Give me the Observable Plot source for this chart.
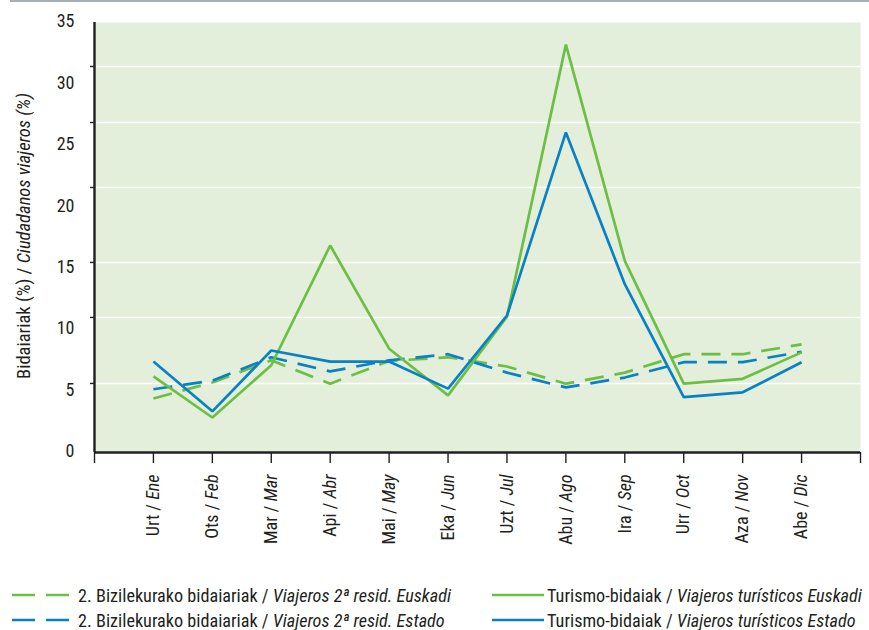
<!DOCTYPE html>
<html>
<head>
<meta charset="utf-8">
<script src="https://cdn.jsdelivr.net/npm/d3@7"></script>
<script src="https://cdn.jsdelivr.net/npm/@observablehq/plot@0.6"></script>
<style>
  html, body { margin: 0; padding: 0; background: #ffffff; }
  body { width: 869px; height: 630px; position: relative; overflow: hidden;
         font-family: "Liberation Sans Narrow", "Roboto Condensed", "DejaVu Sans Condensed", "Liberation Sans", sans-serif;
         color: #231f20; }
  #topline { position: absolute; left: 10px; top: 0; width: 859px; height: 2px; background: #a7afb5; }
  #chart { position: absolute; left: 0; top: 0; }
  .leg { position: absolute; height: 24px; display: flex; align-items: center; font-size: 18.2px; white-space: nowrap; }
  .leg svg { flex: none; }
  .leg i { font-style: italic; }
</style>
</head>
<body>
<div id="topline"></div>
<div id="chart"></div>
<div class="leg" style="left:10px; top:583px;"><svg width="66" height="6"><line x1="2" y1="3" x2="62" y2="3" stroke="#6cbe45" stroke-width="2.7" stroke-dasharray="23,11"/></svg><span style="margin-left:2px">2. Bizilekurako bidaiariak / <i>Viajeros 2ª resid. Euskadi</i></span></div>
<div class="leg" style="left:10px; top:608px;"><svg width="66" height="6"><line x1="2" y1="3" x2="62" y2="3" stroke="#0a80c6" stroke-width="2.7" stroke-dasharray="23,11"/></svg><span style="margin-left:2px">2. Bizilekurako bidaiariak / <i>Viajeros 2ª resid. Estado</i></span></div>
<div class="leg" style="left:492px; top:583px;"><svg width="53" height="6"><line x1="0" y1="3" x2="52" y2="3" stroke="#6cbe45" stroke-width="2.7"/></svg><span style="margin-left:2px">Turismo-bidaiak / <i>Viajeros turísticos Euskadi</i></span></div>
<div class="leg" style="left:492px; top:608px;"><svg width="53" height="6"><line x1="0" y1="3" x2="52" y2="3" stroke="#0a80c6" stroke-width="2.7"/></svg><span style="margin-left:2px">Turismo-bidaiak / <i>Viajeros turísticos Estado</i></span></div>
<script>
// ---- data ----
const monthPos = [1, 2, 3, 4, 5, 6, 7, 8, 9, 10, 11, 12];
const monthsEu = ["Urt", "Ots", "Mar", "Api", "Mai", "Eka", "Uzt", "Abu", "Ira", "Urr", "Aza", "Abe"];
const monthsEs = ["Ene", "Feb", "Mar", "Abr", "May", "Jun", "Jul", "Ago", "Sep", "Oct", "Nov", "Dic"];

const turismoEuskadi = [6.2, 2.85, 7.1, 16.85, 8.45, 4.65, 11.05, 33.2, 15.6, 5.6, 6.0, 8.15];
const turismoEstado  = [7.4, 3.35, 8.3, 7.4, 7.4, 5.2, 11.15, 26.05, 13.7, 4.5, 4.9, 7.35];
const residEuskadi   = [4.4, 5.7, 7.5, 5.6, 7.45, 7.75, 7.0, 5.6, 6.5, 8.0, 8.0, 8.8];
const residEstado    = [5.15, 5.85, 7.75, 6.6, 7.5, 8.0, 6.5, 5.3, 6.1, 7.35, 7.35, 8.2];

const yTickLabels = [0, 5, 10, 15, 20, 25, 30, 35];
// gridlines / axis ticks as they appear in the reference (not evenly spaced)
const gridValues = [5.62, 10.99, 15.47, 21.57, 26.86, 31.42];
const xTickPositions = [0, 1, 2, 3, 4, 5, 6, 7, 8, 9, 10, 11, 12, 13];

const yTitleA = "Bidaiariak (%) / ";
const yTitleB = "Ciudadanos viajeros (%)";

// ---- build table ----
const GREEN = "#6cbe45", BLUE = "#0a80c6";
const seriesDefs = [
  {key: "residEuskadi", values: residEuskadi, color: GREEN, dash: "19,11"},
  {key: "residEstado", values: residEstado, color: BLUE, dash: "19,11"},
  {key: "turismoEuskadi", values: turismoEuskadi, color: GREEN, dash: null},
  {key: "turismoEstado", values: turismoEstado, color: BLUE, dash: null}
];

const lineMarks = seriesDefs.map(s =>
  Plot.line(monthPos.map((m, i) => ({m, v: s.values[i]})), {
    x: "m", y: "v", stroke: s.color, strokeWidth: 2.7,
    strokeDasharray: s.dash || undefined, strokeLinejoin: "miter", strokeLinecap: "butt"
  })
);

const chart = Plot.plot({
  width: 869,
  height: 575,
  marginLeft: 94,
  marginRight: 9,
  marginTop: 22,
  marginBottom: 123,
  style: {
    fontFamily: '"Liberation Sans Narrow", "Roboto Condensed", "DejaVu Sans Condensed", "Liberation Sans", sans-serif',
    fontSize: "18px",
    color: "#231f20",
    background: "transparent",
    overflow: "visible"
  },
  x: {domain: [0, 13]},
  y: {domain: [0, 35]},
  marks: [
    Plot.frame({fill: "#e3efdb", stroke: null}),
    Plot.ruleY(gridValues, {stroke: "#ffffff", strokeWidth: 1.6}),
    ...lineMarks,
    Plot.ruleX([0], {stroke: "#231f20", strokeWidth: 2.4}),
    Plot.ruleY([0], {stroke: "#231f20", strokeWidth: 2.4}),
    Plot.axisY(gridValues, {tickSize: 4, tickFormat: () => "", label: null, stroke: "#231f20", strokeWidth: 1.4}),
    Plot.axisY(yTickLabels, {tickSize: 0, tickPadding: 20, label: null, fontSize: 18, dy: -1}),
    Plot.axisX(xTickPositions, {tickSize: 11, tickFormat: () => "", label: null, stroke: "#231f20", strokeWidth: 1.4}),
    Plot.axisX(monthPos, {
      tickSize: 0, tickPadding: 22, tickRotate: -90, lineAnchor: "middle", label: null, fontSize: 18,
      tickFormat: m => monthsEu[m - 1] + " / " + monthsEs[m - 1]
    })
  ]
});

document.getElementById("chart").appendChild(chart);

// mixed upright/italic labels
const svg = d3.select(chart.tagName.toLowerCase() === "svg" ? chart : chart.querySelector("svg"));
svg.selectAll("text").each(function () {
  const t = this.textContent;
  const idx = monthPos.findIndex(m => t === monthsEu[m - 1] + " / " + monthsEs[m - 1]);
  if (idx >= 0) {
    const sel = d3.select(this);
    const target = this.querySelector("tspan") ? d3.select(this.querySelector("tspan")) : sel;
    target.text(null);
    target.append("tspan").text(monthsEu[idx] + " / ");
    target.append("tspan").attr("font-style", "italic").text(monthsEs[idx]);
  }
});

// y-axis title
const yt = svg.append("text")
  .attr("transform", "translate(25,236) rotate(-90)")
  .attr("text-anchor", "middle")
  .attr("dominant-baseline", "middle")
  .attr("font-size", 18.5)
  .attr("fill", "#231f20");
yt.append("tspan").text(yTitleA);
yt.append("tspan").attr("font-style", "italic").text(yTitleB);
</script>
</body>
</html>
